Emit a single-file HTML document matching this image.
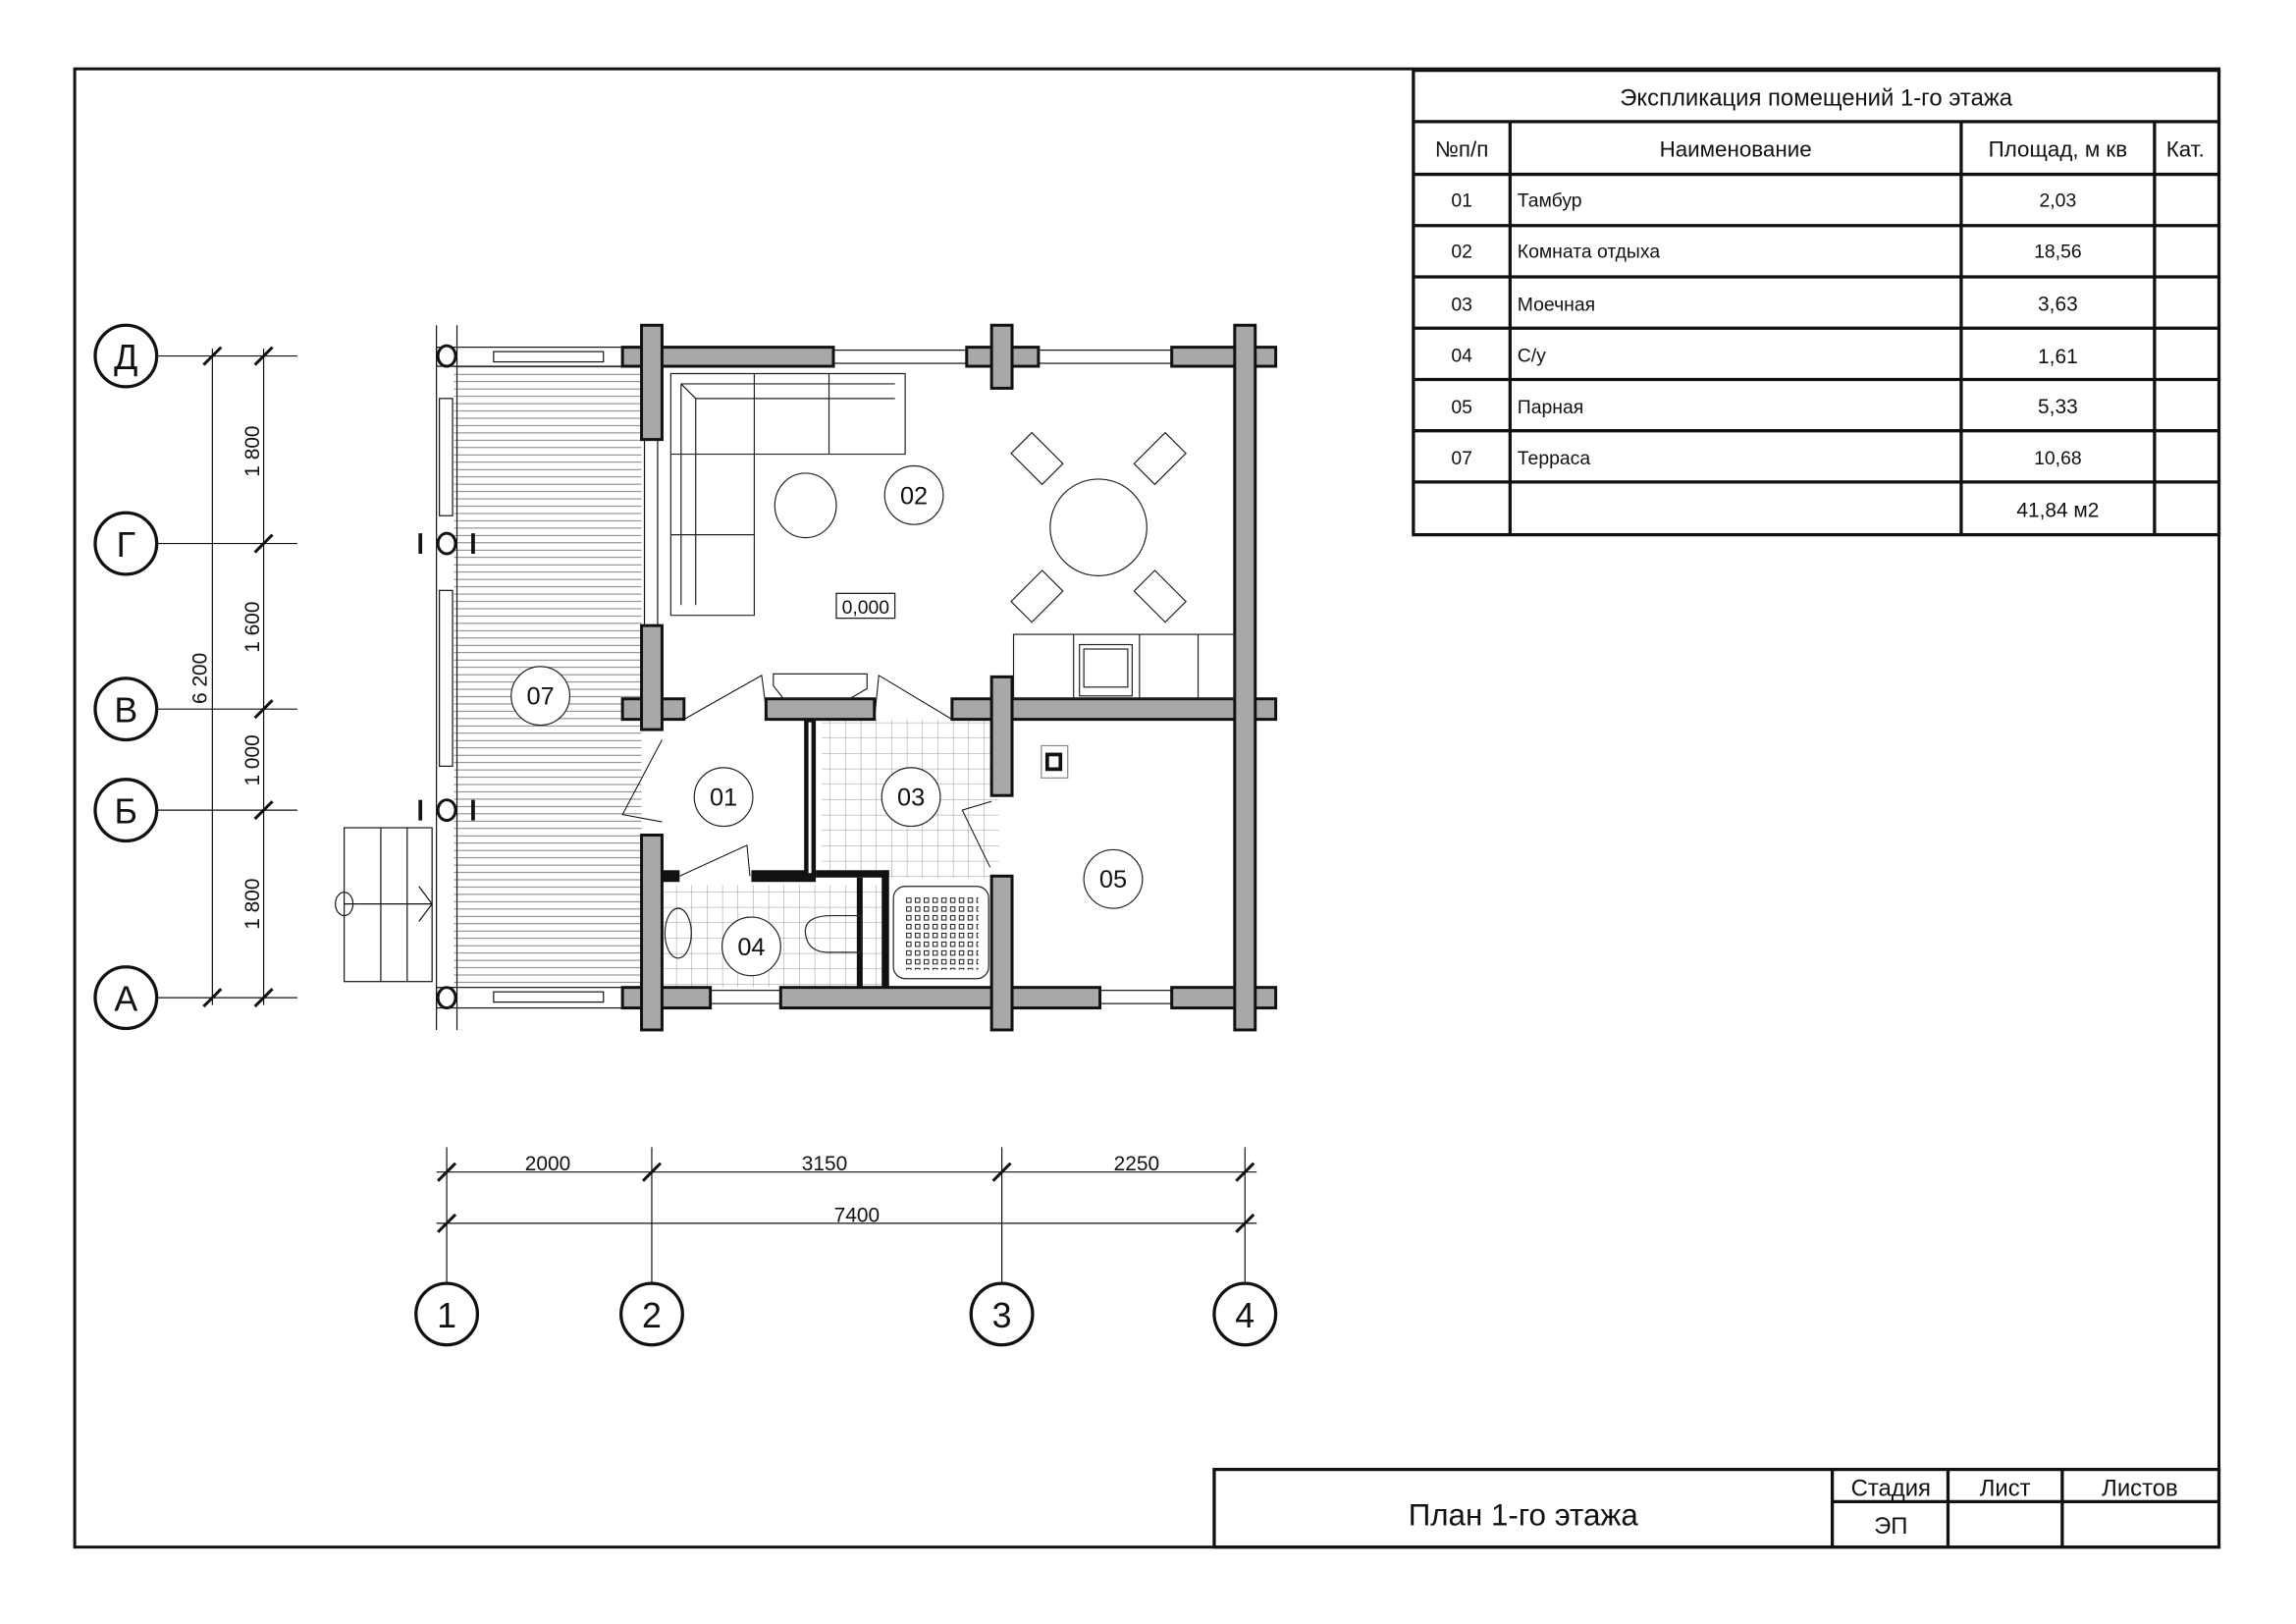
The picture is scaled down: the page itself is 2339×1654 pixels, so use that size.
<!DOCTYPE html>
<html><head><meta charset="utf-8"><style>
html,body{margin:0;padding:0;background:#fff}
svg{display:block}
text{font-family:"Liberation Sans",sans-serif;fill:#111}
</style></head><body>
<svg width="2339" height="1654" viewBox="0 0 1567.6 1108.5" preserveAspectRatio="none" xmlns="http://www.w3.org/2000/svg">
<defs>
<pattern id="hatch" width="6" height="5" patternUnits="userSpaceOnUse"><line x1="0" y1="0.5" x2="6" y2="0.5" stroke="#555" stroke-width="0.5"/></pattern>
<pattern id="tile" width="10.5" height="10.5" patternUnits="userSpaceOnUse"><path d="M10.5 0V10.5M0 10.5H10.5" stroke="#777" stroke-width="0.5" fill="none"/></pattern>
<pattern id="dots" width="6" height="6" patternUnits="userSpaceOnUse"><rect x="1" y="1" width="3" height="3" fill="none" stroke="#222" stroke-width="0.7"/></pattern>
</defs>
<rect x="51" y="47" width="1464" height="1009" fill="none" stroke="#111" stroke-width="2"/>
<g stroke="#111" stroke-width="2.2" fill="none">
<rect x="965" y="48" width="550" height="317"/>
<line x1="965" y1="83" x2="1515" y2="83"/>
<line x1="965" y1="119" x2="1515" y2="119"/>
<line x1="965" y1="154" x2="1515" y2="154"/>
<line x1="965" y1="189" x2="1515" y2="189"/>
<line x1="965" y1="224" x2="1515" y2="224"/>
<line x1="965" y1="259" x2="1515" y2="259"/>
<line x1="965" y1="294" x2="1515" y2="294"/>
<line x1="965" y1="329" x2="1515" y2="329"/>
<line x1="1031" y1="83" x2="1031" y2="365"/>
<line x1="1339" y1="83" x2="1339" y2="365"/>
<line x1="1471" y1="83" x2="1471" y2="365"/>
</g>
<g font-size="15" text-anchor="middle">
<text x="1240" y="72" font-size="16">Экспликация помещений 1-го этажа</text>
<text x="998" y="107">№п/п</text>
<text x="1185" y="107">Наименование</text>
<text x="1405" y="107">Площад, м кв</text>
<text x="1492" y="107">Кат.</text>
</g>
<g font-size="13">
<g text-anchor="middle">
<text x="998" y="141">01</text><text x="998" y="176">02</text><text x="998" y="212">03</text><text x="998" y="247">04</text><text x="998" y="282">05</text><text x="998" y="317">07</text>
<text x="1405" y="141">2,03</text><text x="1405" y="176">18,56</text><text x="1405" y="212" font-size="14">3,63</text><text x="1405" y="248" font-size="14">1,61</text><text x="1405" y="282" font-size="14">5,33</text><text x="1405" y="317">10,68</text>
<text x="1405" y="353" font-size="14">41,84 м2</text>
</g>
<text x="1036" y="141">Тамбур</text><text x="1036" y="176">Комната отдыха</text><text x="1036" y="212">Моечная</text><text x="1036" y="247">С/у</text><text x="1036" y="282">Парная</text><text x="1036" y="317">Терраса</text>
</g>
<g stroke="#111" stroke-width="2.2" fill="none">
<rect x="829" y="1003" width="686" height="53"/>
<line x1="1251" y1="1003" x2="1251" y2="1056"/>
<line x1="1330" y1="1003" x2="1330" y2="1056"/>
<line x1="1408" y1="1003" x2="1408" y2="1056"/>
<line x1="1251" y1="1025" x2="1515" y2="1025"/>
</g>
<g font-size="16" text-anchor="middle">
<text x="1040" y="1041" font-size="21">План 1-го этажа</text>
<text x="1291" y="1021">Стадия</text><text x="1369" y="1021">Лист</text><text x="1461" y="1021">Листов</text>
<text x="1291" y="1047">ЭП</text>
</g>
<g stroke="#111" stroke-width="0.8" fill="none">
<line x1="107" y1="243" x2="203" y2="243"/><line x1="107" y1="371" x2="203" y2="371"/><line x1="107" y1="484" x2="203" y2="484"/><line x1="107" y1="553" x2="203" y2="553"/><line x1="107" y1="681" x2="203" y2="681"/>
<line x1="145" y1="238" x2="145" y2="686"/><line x1="180" y1="238" x2="180" y2="686"/>
<line x1="305" y1="783" x2="305" y2="876"/><line x1="445" y1="783" x2="445" y2="876"/><line x1="684" y1="783" x2="684" y2="876"/><line x1="850" y1="783" x2="850" y2="876"/>
<line x1="298" y1="800" x2="858" y2="800"/><line x1="298" y1="835" x2="858" y2="835"/>
</g>
<g stroke="#111" stroke-width="2">
<line x1="139" y1="249" x2="151" y2="237"/><line x1="174" y1="249" x2="186" y2="237"/>
<line x1="174" y1="377" x2="186" y2="365"/><line x1="174" y1="490" x2="186" y2="478"/><line x1="174" y1="559" x2="186" y2="547"/>
<line x1="139" y1="687" x2="151" y2="675"/><line x1="174" y1="687" x2="186" y2="675"/>
<line x1="299" y1="806" x2="311" y2="794"/><line x1="439" y1="806" x2="451" y2="794"/><line x1="678" y1="806" x2="690" y2="794"/><line x1="844" y1="806" x2="856" y2="794"/>
<line x1="299" y1="841" x2="311" y2="829"/><line x1="844" y1="841" x2="856" y2="829"/>
</g>
<g fill="#fff" stroke="#111" stroke-width="2.2">
<circle cx="86" cy="243" r="21"/><circle cx="86" cy="371" r="21"/><circle cx="86" cy="484" r="21"/><circle cx="86" cy="553" r="21"/><circle cx="86" cy="681" r="21"/>
<circle cx="305" cy="897" r="21"/><circle cx="445" cy="897" r="21"/><circle cx="684" cy="897" r="21"/><circle cx="850" cy="897" r="21"/>
</g>
<g font-size="24" text-anchor="middle">
<text x="86" y="252">Д</text><text x="86" y="380">Г</text><text x="86" y="493">В</text><text x="86" y="562">Б</text><text x="86" y="690">А</text>
<text x="305" y="906">1</text><text x="445" y="906">2</text><text x="684" y="906">3</text><text x="850" y="906">4</text>
</g>
<g font-size="14" text-anchor="middle">
<text transform="translate(177,308) rotate(-90)">1 800</text>
<text transform="translate(177,428) rotate(-90)">1 600</text>
<text transform="translate(177,519) rotate(-90)">1 000</text>
<text transform="translate(177,617) rotate(-90)">1 800</text>
<text transform="translate(141,463) rotate(-90)">6 200</text>
<text x="374" y="799">2000</text><text x="563" y="799">3150</text><text x="776" y="799">2250</text><text x="585" y="834">7400</text>
</g>
<rect x="310" y="250" width="128" height="424" fill="url(#hatch)"/>
<g stroke="#111" stroke-width="0.8" fill="none">
<line x1="298" y1="222" x2="298" y2="703"/><line x1="312" y1="222" x2="312" y2="703"/>
<rect x="298" y="237" width="140" height="13"/><rect x="298" y="674" width="140" height="14"/>
<rect x="337" y="240" width="75" height="7"/><rect x="337" y="677" width="75" height="7"/>
<rect x="300" y="272" width="9" height="80"/><rect x="300" y="403" width="9" height="120"/>
<rect x="235" y="565" width="60" height="105"/>
<line x1="235" y1="617" x2="295" y2="617"/><line x1="286" y1="605" x2="295" y2="617"/><line x1="286" y1="629" x2="295" y2="617"/>
<ellipse cx="235" cy="617" rx="6" ry="8"/>
<line x1="260" y1="565" x2="260" y2="670"/><line x1="278" y1="565" x2="278" y2="670"/>
</g>
<g fill="#fff" stroke="#111" stroke-width="2"><ellipse cx="305" cy="243" rx="6" ry="7"/><ellipse cx="305" cy="681" rx="6" ry="7"/><ellipse cx="305" cy="371" rx="6" ry="7"/><ellipse cx="305" cy="553" rx="6" ry="7"/></g>
<g stroke="#111" stroke-width="2.5"><line x1="287" y1="364" x2="287" y2="378"/><line x1="323" y1="364" x2="323" y2="378"/><line x1="287" y1="546" x2="287" y2="560"/><line x1="323" y1="546" x2="323" y2="560"/></g>
<rect x="561" y="491" width="121" height="108" fill="url(#tile)"/>
<rect x="452" y="604" width="150" height="70" fill="url(#tile)"/>
<g stroke="#111" stroke-width="0.8" fill="#fff">
<rect x="569" y="239" width="91" height="9"/><rect x="709" y="239" width="91" height="9"/>
<rect x="440" y="300" width="9" height="127"/>
<rect x="485" y="676" width="48" height="9"/><rect x="751" y="676" width="49" height="9"/>
</g>
<g fill="#a8a8a8" stroke="#111" stroke-width="2">
<rect x="425" y="237" width="144" height="13"/><rect x="660" y="237" width="49" height="13"/><rect x="800" y="237" width="71" height="13"/>
<rect x="425" y="477" width="42" height="14"/><rect x="523" y="477" width="74" height="14"/><rect x="650" y="477" width="221" height="14"/>
<rect x="425" y="674" width="60" height="14"/><rect x="533" y="674" width="218" height="14"/><rect x="800" y="674" width="71" height="14"/>
<rect x="438" y="222" width="14" height="78"/><rect x="438" y="427" width="14" height="71"/><rect x="438" y="570" width="14" height="133"/>
<rect x="843" y="222" width="14" height="481"/>
<rect x="677" y="222" width="14" height="43"/><rect x="677" y="462" width="14" height="81"/><rect x="677" y="598" width="14" height="105"/>
</g>
<g fill="#111">
<rect x="549" y="491" width="8" height="109"/>
<rect x="513" y="594" width="44" height="8"/><rect x="452" y="594" width="12" height="8"/>
<rect x="557" y="594" width="50" height="5"/><rect x="602" y="594" width="5" height="80"/>
<rect x="585" y="599" width="4" height="75"/>
</g>
<rect x="552" y="493" width="2" height="103" fill="#fff"/>
<g stroke="#111" stroke-width="0.7" fill="none">
<path d="M467 491 L520 461 L524 491"/><path d="M597 491 L600 461 L650 491"/>
<path d="M452 505 L425 556 L452 561"/><path d="M464 598 L510 577 L512 598"/>
<path d="M677 547 L657 553 L676 592"/>
</g>
<g stroke="#222" stroke-width="0.8" fill="none">
<path d="M458 255 H618 V310 H515 V420 H458 Z"/><path d="M465 262 H611 M465 262 V413 M465 262 L475 272 H611 M475 272 V413"/>
<line x1="515" y1="255" x2="515" y2="310"/><line x1="566" y1="255" x2="566" y2="310"/><line x1="458" y1="310" x2="515" y2="310"/><line x1="458" y1="365" x2="515" y2="365"/>
<ellipse cx="550" cy="345" rx="21" ry="22"/>
<circle cx="750" cy="360" r="33"/>
<g transform="translate(750 360)">
<rect x="-57" y="-57" width="30" height="20" transform="rotate(45 -42 -47)"/>
<rect x="27" y="-57" width="30" height="20" transform="rotate(-45 42 -47)"/>
<rect x="-57" y="37" width="30" height="20" transform="rotate(-45 -42 47)"/>
<rect x="27" y="37" width="30" height="20" transform="rotate(45 42 47)"/>
</g>
<rect x="571" y="405" width="40" height="17" stroke="#111"/>
<rect x="692" y="433" width="151" height="44"/><line x1="733" y1="433" x2="733" y2="477"/><line x1="778" y1="433" x2="778" y2="477"/>
<rect x="737" y="440" width="36" height="35"/><rect x="740" y="443" width="30" height="26"/>
<line x1="818" y1="433" x2="818" y2="477"/>
<path d="M528 468 V460 H592 V470 L580 477 H535 Z"/>
<rect x="610" y="605" width="65" height="63" rx="8"/>
<rect x="618" y="612" width="50" height="50" fill="url(#dots)" stroke="none"/>
<ellipse cx="463" cy="637" rx="9" ry="17"/>
<path d="M588 625 H568 Q548 625 550 638 Q552 651 568 650 H588 Z"/>
<rect x="711" y="509" width="18" height="22" stroke="#888"/>
</g>
<rect x="715" y="515" width="9" height="10" fill="none" stroke="#111" stroke-width="2.5"/>
<g fill="#fff" stroke="#222" stroke-width="0.8"><circle cx="624" cy="338" r="20"/><circle cx="369" cy="475" r="20"/><circle cx="494" cy="544" r="20"/><circle cx="622" cy="544" r="20"/><circle cx="513" cy="646" r="20"/><circle cx="760" cy="600" r="20"/></g>
<g font-size="17" text-anchor="middle">
<text x="624" y="344">02</text><text x="369" y="481">07</text><text x="494" y="550">01</text><text x="622" y="550">03</text><text x="513" y="652">04</text><text x="760" y="606">05</text>
<text x="591" y="419" font-size="13">0,000</text>
</g>
</svg>
</body></html>
